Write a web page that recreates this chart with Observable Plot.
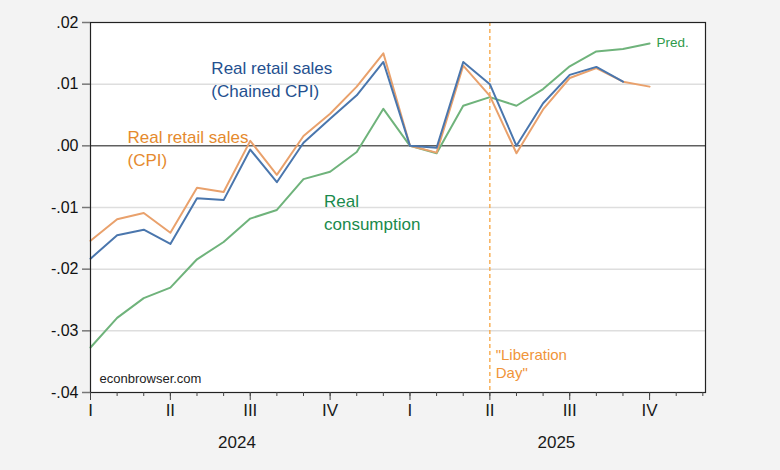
<!DOCTYPE html>
<html><head><meta charset="utf-8">
<script src="https://cdn.jsdelivr.net/npm/d3@7"></script>
<script src="https://cdn.jsdelivr.net/npm/@observablehq/plot@0.6"></script>
<style>
html,body{margin:0;padding:0;background:#f3f3f3;}
#chart svg{display:block;}
</style></head>
<body><div id="chart"></div>
<script>
const months = ["2024-01","2024-02","2024-03","2024-04","2024-05","2024-06","2024-07","2024-08","2024-09","2024-10","2024-11","2024-12",
"2025-01","2025-02","2025-03","2025-04","2025-05","2025-06","2025-07","2025-08","2025-09","2025-10"];
const retailChained = [-0.0183,-0.0145,-0.0136,-0.0159,-0.0085,-0.0088,-0.0006,-0.0059,0.0005,0.0044,0.0082,0.0136,
0.0000,-0.0003,0.0136,0.0100,0.0000,0.0069,0.0115,0.0128,0.0104];
const retailCPI = [-0.0154,-0.0119,-0.0109,-0.0141,-0.0068,-0.0075,0.0008,-0.0047,0.0016,0.0052,0.0096,0.0150,
0.0000,-0.0011,0.0130,0.0081,-0.0012,0.0059,0.0110,0.0126,0.0104,0.0096];
const consumption = [-0.0327,-0.0279,-0.0247,-0.0230,-0.0184,-0.0156,-0.0118,-0.0104,-0.0054,-0.0042,-0.0010,0.0060,
0.0000,-0.0012,0.0065,0.0079,0.0065,0.0092,0.0129,0.0153,0.0157,0.0166];
const quarterLabels = ["I","II","III","IV","I","II","III","IV"];
const yearLabels = ["2024","2025"];
const yTicks = [-0.04,-0.03,-0.02,-0.01,0,0.01,0.02];
const gridValues = [-0.03,-0.02,-0.01,0.01];
const eventMonth = "2025-04";

const idx = m => { const [y, mo] = m.split("-").map(Number); return (y - 2024) * 12 + (mo - 1); };
const series = (vals) => vals.map((v, i) => ({x: idx(months[i]), y: v}));
const allMonths = d3.range(24);
const quarterIdx = quarterLabels.map((q, i) => ({x: i * 3, label: q}));
const yearIdx = yearLabels.map((y, i) => ({x: i * 12 + 5.5, label: y}));
const fmt = v => d3.format(".2f")(v).replace("\u2212", "-").replace("0.", ".");

const FONT = "'Liberation Sans', Arial, sans-serif";
const annotations = [
  {x: 4.54, y: 0.01094, text: "Real retail sales\n(Chained CPI)", color: "#24508f", size: 17, lh: 1.35},
  {x: 1.39, y: -0.0002, text: "Real retail sales\n(CPI)", color: "#e58a2e", size: 17, lh: 1.35},
  {x: 8.77, y: -0.0106, text: "Real\nconsumption", color: "#1a8a4c", size: 17, lh: 1.35},
  {x: 15.22, y: -0.03525, text: "\"Liberation\nDay\"", color: "#f0953a", size: 15, lh: 1.23},
  {x: 0.34, y: -0.0378, text: "econbrowser.com", color: "#222", size: 13, lh: 1},
  {x: 21.26, y: 0.01665, text: "Pred.", color: "#2f9a4a", size: 13.5, lh: 1}
];

const chart = Plot.plot({
  width: 780, height: 470,
  marginLeft: 90, marginRight: 75, marginTop: 22, marginBottom: 78,
  style: {background: "#f3f3f3", fontFamily: FONT},
  x: {domain: [0, 23.1], axis: null, label: null},
  y: {domain: [-0.04, 0.02], axis: null, label: null},
  marks: [
    Plot.frame({fill: "white", stroke: null}),
    Plot.ruleY(gridValues, {stroke: "#dedede", strokeWidth: 1.5}),
    Plot.ruleY([0], {stroke: "#111", strokeWidth: 1}),
    Plot.ruleX([idx(eventMonth)], {stroke: "#f7a541", strokeWidth: 1.3, strokeDasharray: "4,3"}),
    Plot.line(series(consumption), {x: "x", y: "y", stroke: "#6fb37b", strokeWidth: 2}),
    Plot.line(series(retailCPI), {x: "x", y: "y", stroke: "#e9a16c", strokeWidth: 2}),
    Plot.line(series(retailChained), {x: "x", y: "y", stroke: "#4a76ad", strokeWidth: 2}),
    Plot.frame({stroke: "#222", strokeWidth: 1.2}),
    Plot.axisY(yTicks, {label: null, tickSize: 8, tickPadding: 4, tickFormat: fmt, fontSize: 16, stroke: "#777", fill: "#111", strokeWidth: 1.5}),
    Plot.axisX(allMonths, {label: null, tickSize: 4, tickFormat: () => "", stroke: "#444"}),
    Plot.axisX(quarterIdx.map(d => d.x), {label: null, tickSize: 8, tickFormat: () => "", stroke: "#444"}),
    Plot.text(quarterIdx, {x: "x", text: "label", frameAnchor: "bottom", dy: 23, fontSize: 17, fill: "#1a1a1a"}),
    Plot.text(yearIdx, {x: "x", text: "label", frameAnchor: "bottom", dy: 55, fontSize: 17, fill: "#1a1a1a"}),
    ...annotations.map(a => Plot.text([a], {x: "x", y: "y", text: "text", fill: a.color, fontSize: a.size, lineHeight: a.lh, textAnchor: "start"}))
  ]
});
document.getElementById("chart").appendChild(chart);
</script>
</body></html>
